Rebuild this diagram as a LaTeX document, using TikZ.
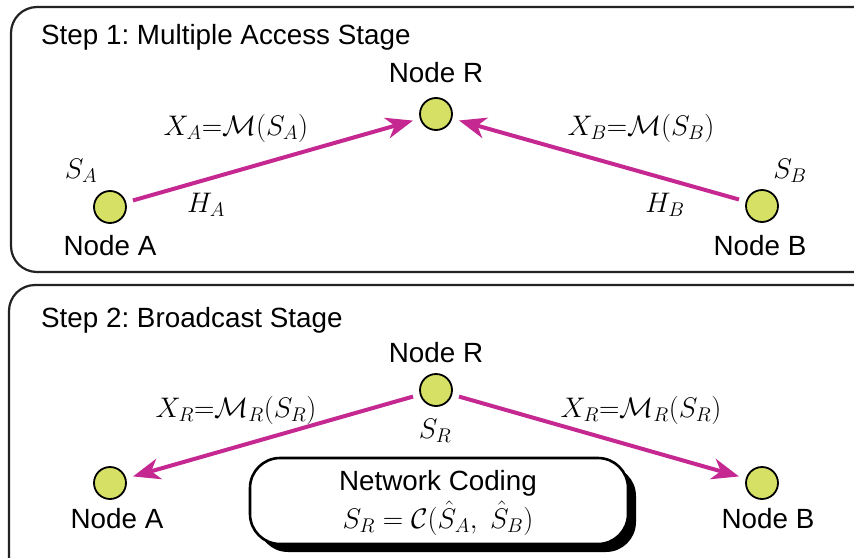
\RequirePackage{fix-cm}
\documentclass[tikz,border=0pt]{standalone}
\usepackage{fontspec}
\setmainfont{Liberation Sans}
\usetikzlibrary{arrows.meta}
\frenchspacing
\definecolor{nodegreen}{RGB}{213,224,101}
\definecolor{linkmag}{RGB}{197,40,145}
\definecolor{frame}{RGB}{35,35,35}
\begin{document}
\begin{tikzpicture}[x=1pt,y=-1pt,
  stagebox/.style={draw=frame,line width=2.2pt,rounded corners=26pt},
  station/.style={circle,draw=black,line width=1.8pt,fill=nodegreen,minimum size=32pt,inner sep=0pt},
  caption/.style={font=\fontsize{27.8}{32}\selectfont,inner sep=0pt,anchor=base},
  mathlbl/.style={font=\fontsize{28.3}{32}\selectfont,inner sep=0pt,anchor=base},
  link/.style={draw=linkmag,line width=4pt,-{Stealth[length=27pt,width=21pt,inset=8pt]},shorten <=7pt,shorten >=7pt}
]
\useasboundingbox (0,0) rectangle (854,557);
\clip (0,0) rectangle (854,557);
\fill[white] (0,0) rectangle (854,557);

% stage frames
\draw[stagebox] (11,7) rectangle (880,272);
\draw[stagebox] (9,285) rectangle (880,600);

% ---- Step 1: multiple access ----
\node[caption,anchor=base west] (t1) at (41,44) {Step 1: Multiple Access Stage};
\node[station] (a1) at (110,207) {};
\node[station] (r1) at (436,114) {};
\node[station] (b1) at (762,206) {};
\node[caption] (la1) at (110,255) {Node A};
\node[caption] (lr1) at (436,82) {Node R};
\node[caption] (lb1) at (760,255) {Node B};
\draw[link] (a1) -- (r1);
\draw[link] (b1) -- (r1);
\node[mathlbl] (xa) at (236,135) {$X_A{=}\mathcal{M}(S_A)$};
\node[mathlbl] (xb) at (641,135) {$X_B{=}\mathcal{M}(S_B)$};
\node[mathlbl] (sa) at (81,178) {$S_A$};
\node[mathlbl] (sb) at (790,178) {$S_B$};
\node[mathlbl] (ha) at (206,212) {$H_A$};
\node[mathlbl] (hb) at (665,212) {$H_B$};

% ---- Step 2: broadcast ----
\node[caption,anchor=base west] (t2) at (41,327) {Step 2: Broadcast Stage};
\node[station] (a2) at (110,483) {};
\node[station] (r2) at (436,390) {};
\node[station] (b2) at (762,483) {};
\node[caption] (la2) at (117,528) {Node A};
\node[caption] (lr2) at (436,362) {Node R};
\node[caption] (lb2) at (768,528) {Node B};
\draw[link] (r2) -- (a2);
\draw[link] (r2) -- (b2);
\node[mathlbl] (xr1) at (236,417) {$X_R{=}\mathcal{M}_R(S_R)$};
\node[mathlbl] (xr2) at (641,417) {$X_R{=}\mathcal{M}_R(S_R)$};
\node[mathlbl] (sr) at (435,438) {$S_R$};

% network coding box with drop shadow
\fill[black,rounded corners=30pt] (258,466) rectangle (636,552);
\draw[fill=white,draw=black,line width=2.6pt,rounded corners=30pt] (250,458) rectangle (628,544);
\node[caption] (nc) at (438,490) {Network Coding};
\node[mathlbl] (code) at (438,528) {$S_R=\mathcal{C}(\hat{S}_A,\;\hat{S}_B)$};
\end{tikzpicture}
\end{document}
